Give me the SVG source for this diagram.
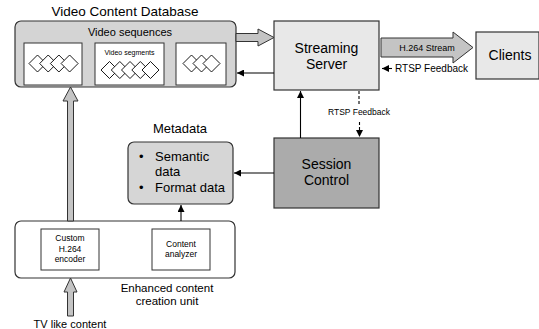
<svg xmlns="http://www.w3.org/2000/svg" width="539" height="329" viewBox="0 0 539 329">
<style>
text{font-family:"Liberation Sans",Arial,sans-serif;fill:#000}
.box{stroke:#333;stroke-width:1.2}
.in{fill:#fff;stroke:#333;stroke-width:1}
.dm{fill:#fff;stroke:#000;stroke-width:0.9}
.ln{stroke:#000;stroke-width:1.1;fill:none}
.blk{fill:#c4c4c4;stroke:#333;stroke-width:1}
</style>
<defs>
<marker id="ah" viewBox="0 0 10 10" refX="10" refY="5" markerWidth="7" markerHeight="7" orient="auto" markerUnits="userSpaceOnUse">
<path d="M0,0 L10,5 L0,10 z" fill="#000"/>
</marker>
<path id="d" d="M0,-8.5 L8.5,0 L0,8.5 L-8.5,0 z" class="dm"/>
</defs>

<g id="db">
<text x="125" y="16" font-size="13.5" text-anchor="middle">Video Content Database</text>
<rect x="15" y="21" width="221" height="66" rx="6" fill="#d4d4d4" class="box"/>
<text x="130" y="36" font-size="11" text-anchor="middle">Video sequences</text>
<rect x="24" y="43" width="58" height="42" class="in"/>
<rect x="95" y="43" width="69" height="42" class="in"/>
<rect x="176" y="43" width="50" height="42" class="in"/>
<text x="129.5" y="55" font-size="7" text-anchor="middle">Video segments</text>
<use href="#d" x="37.5" y="63.5"/><use href="#d" x="48.2" y="63.5"/><use href="#d" x="58.9" y="63.5"/><use href="#d" x="69.6" y="63.5"/>
<use href="#d" x="109.5" y="70"/><use href="#d" x="119.8" y="70"/><use href="#d" x="130" y="70"/><use href="#d" x="140.3" y="70"/><use href="#d" x="150.5" y="70"/>
<use href="#d" x="191.5" y="63.5"/><use href="#d" x="201.5" y="63.5"/><use href="#d" x="211.5" y="63.5"/>
</g>

<g id="server">
<rect x="274" y="21" width="105" height="69" fill="#e8e8e8" class="box"/>
<text x="326.5" y="53" font-size="14" text-anchor="middle">Streaming</text>
<text x="326.5" y="69" font-size="14" text-anchor="middle">Server</text>
</g>

<g id="clients">
<rect x="476" y="32" width="63" height="47" fill="#e8e8e8" class="box"/>
<text x="510" y="60" font-size="14" text-anchor="middle">Clients</text>
</g>

<g id="session">
<rect x="274" y="138" width="105" height="70" fill="#ababab" class="box"/>
<text x="326.5" y="169" font-size="14" text-anchor="middle">Session</text>
<text x="326.5" y="185" font-size="14" text-anchor="middle">Control</text>
</g>

<g id="metadata">
<text x="180" y="133" font-size="13" text-anchor="middle">Metadata</text>
<rect x="128" y="142" width="105" height="62" rx="6" fill="#d6d6d6" class="box"/>
<text x="139" y="161" font-size="13">•</text>
<text x="155" y="161" font-size="13">Semantic</text>
<text x="155" y="176" font-size="13">data</text>
<text x="139" y="192" font-size="13">•</text>
<text x="155" y="192" font-size="13">Format data</text>
</g>

<g id="ecu">
<rect x="15" y="221" width="220" height="57" rx="6" fill="#fff" class="box"/>
<rect x="41" y="229" width="58" height="41" class="in"/>
<text x="70" y="241" font-size="8.5" text-anchor="middle">Custom</text>
<text x="70" y="251.5" font-size="8.5" text-anchor="middle">H.264</text>
<text x="70" y="262" font-size="8.5" text-anchor="middle">encoder</text>
<rect x="152" y="229" width="58" height="41" class="in"/>
<text x="181" y="247" font-size="8.5" text-anchor="middle">Content</text>
<text x="181" y="257" font-size="8.5" text-anchor="middle">analyzer</text>
<text x="167" y="291.5" font-size="11.5" text-anchor="middle">Enhanced content</text>
<text x="167" y="304.5" font-size="11.5" text-anchor="middle">creation unit</text>
</g>

<g id="tv">
<text x="70" y="328" font-size="11" text-anchor="middle">TV like content</text>
</g>

<g id="connectors">
<path class="blk" d="M236,33.5 L258,33.5 L258,29 L274,37.5 L258,46 L258,41.5 L236,41.5 z"/>
<line class="ln" x1="274" y1="73" x2="237" y2="73" marker-end="url(#ah)"/>
<path class="blk" d="M381,38 L453,38 L453,32 L473,47.5 L453,63 L453,57 L381,57 z"/>
<text x="427" y="51" font-size="9" text-anchor="middle">H.264 Stream</text>
<line class="ln" x1="392" y1="68.5" x2="382" y2="68.5" marker-end="url(#ah)"/>
<text x="395" y="72" font-size="10">RTSP Feedback</text>
<line class="ln" x1="300.5" y1="138" x2="300.5" y2="91" marker-end="url(#ah)"/>
<line class="ln" x1="359" y1="91" x2="359" y2="104" stroke-dasharray="3,2"/>
<text x="359" y="115" font-size="8.5" text-anchor="middle">RTSP Feedback</text>
<line class="ln" x1="359.5" y1="122" x2="359.5" y2="137" stroke-dasharray="3,2" marker-end="url(#ah)"/>
<line class="ln" x1="274" y1="173" x2="234" y2="173" marker-end="url(#ah)"/>
<line class="ln" x1="181" y1="221" x2="181" y2="205" marker-end="url(#ah)"/>
<path class="blk" d="M67.5,221 L67.5,101 L63,101 L70.5,87 L78,101 L73.5,101 L73.5,221 z"/>
<path class="blk" d="M67.5,316 L67.5,292 L64,292 L70.5,278 L77,292 L73.5,292 L73.5,316 z"/>
</g>
</svg>
